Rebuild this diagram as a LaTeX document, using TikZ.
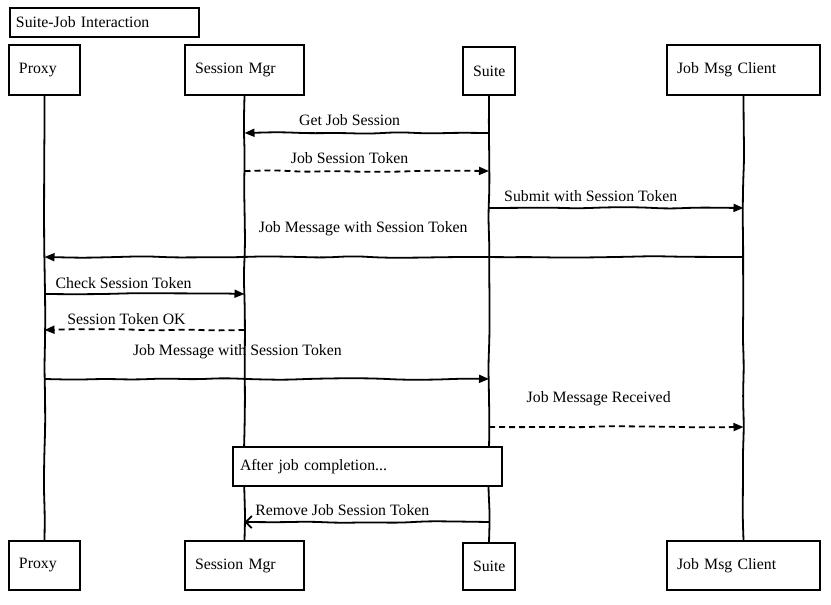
\documentclass[tikz,border=0pt]{standalone}
\usepackage{fontspec}
\setmainfont{Liberation Serif}
\usetikzlibrary{arrows.meta,decorations.pathmorphing}

\tikzset{
	sketch/.style={decorate, decoration={random steps, segment length=30pt, amplitude=0.9pt}, rounded corners=10pt},
	actor/.style={draw, line width=2pt, minimum height=50pt, inner xsep=10pt, align=left, fill=white},
	life/.style={line width=1.8pt, sketch},
	msg/.style={line width=1.8pt, sketch, -{Triangle[length=10pt,width=8pt]}},
	reply/.style={msg, dash pattern=on 6pt off 4pt},
	lbl/.style={anchor=center, inner sep=0pt},
}

\begin{document}
\begin{tikzpicture}[x=1pt, y=-1pt, font=\fontsize{15.8}{19}\selectfont]
			%%%%% START %%%%%
			\pgfmathsetseed{11}
			\useasboundingbox (0,0) rectangle (831,605);
			
			\node[actor, minimum height=29pt, text width=177pt, inner xsep=6pt] (title) at (104.5,22.5) {Suite-Job Interaction};
			
			\node[actor, text width=51pt] (proxyT) at (44.5,70) {Proxy};
			\node[actor, text width=99pt] (smgrT) at (244.5,70) {Session Mgr};
			\node[actor, text width=32pt, minimum height=48pt] (suiteT) at (489,71) {Suite};
			\node[actor, text width=133pt] (jmcT) at (743.5,70) {Job Msg Client};
			
			\node[actor, text width=51pt, minimum height=49pt] (proxyB) at (44.5,565.5) {Proxy};
			\node[actor, text width=99pt, minimum height=49pt] (smgrB) at (244.5,565.5) {Session Mgr};
			\node[actor, text width=32pt, minimum height=47pt] (suiteB) at (489,566.5) {Suite};
			\node[actor, text width=133pt, minimum height=49pt] (jmcB) at (743.5,565.5) {Job Msg Client};
			
			\draw[life] (proxyT) -- (proxyB);
			\draw[life] (smgrT) -- (smgrB);
			\draw[life] (suiteT) -- (suiteB);
			\draw[life] (jmcT) -- (jmcB);
			
			\draw[msg] (suiteT |- 0,133) -- node[lbl, pos=0.57, yshift=13pt] {Get Job Session} (smgrT |- 0,133);
			\draw[reply] (smgrT |- 0,171) -- node[lbl, pos=0.43, yshift=13pt] {Job Session Token} (suiteT |- 0,171);
			\draw[msg] (suiteT |- 0,208) -- node[lbl, pos=0.40, yshift=12pt] {Submit with Session Token} (jmcT |- 0,208);
			\draw[msg] (jmcT |- 0,257) -- node[lbl, pos=0.544, yshift=28pt] {Job Message with Session Token} (proxyT |- 0,257);
			\draw[msg] (proxyT |- 0,294) -- node[lbl, pos=0.395, yshift=11pt] {Check Session Token} (smgrT |- 0,294);
			\draw[reply] (smgrT |- 0,330) -- node[lbl, pos=0.59, yshift=11pt] {Session Token OK} (proxyT |- 0,330);
			\draw[msg] (proxyT |- 0,379) -- node[lbl, pos=0.434, yshift=27pt] {Job Message with Session Token} (suiteT |- 0,379);
			\draw[reply] (suiteT |- 0,427) -- node[lbl, pos=0.431, yshift=28pt] {Job Message Received} (jmcT |- 0,427);
			
			\node[actor, minimum height=39pt, text width=255pt, inner xsep=7pt] (note) at (367.5,466.5) {After job completion...};
			
			\draw[msg, -{Straight Barb[length=6pt,width=12pt]}] (suiteT |- 0,522) -- node[lbl, pos=0.6, yshift=12pt] {Remove Job Session Token} (smgrT |- 0,522);
			%%%%% END %%%%%
\end{tikzpicture}
\end{document}
